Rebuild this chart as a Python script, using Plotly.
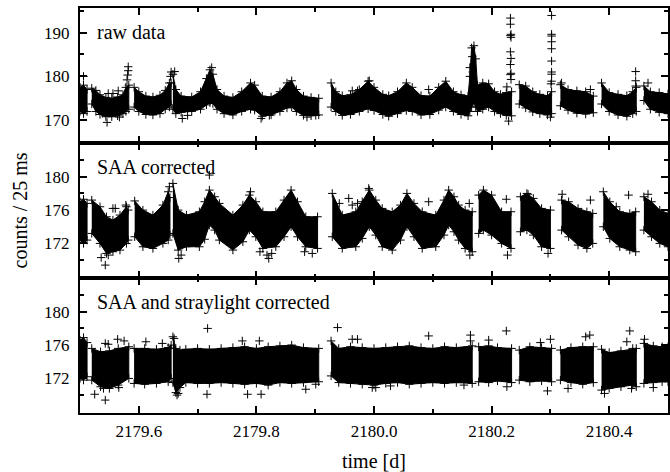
import plotly.graph_objects as go
from plotly.subplots import make_subplots

N = None

# ---------------- data ----------------
# Dense band of each light curve: time knots [d], lower and upper edge [counts / 25 ms]
# None marks a gap in the data.
raw_time = [2179.500, 2179.506, 2179.512, N,
            2179.520, 2179.527, 2179.534, 2179.544, 2179.554, 2179.564, 2179.573, 2179.578, 2179.583, N,
            2179.592, 2179.600, 2179.612, 2179.624, 2179.636, 2179.645, 2179.652, 2179.655, N,
            2179.658, 2179.663, 2179.672, 2179.690, 2179.705, 2179.715, 2179.721, 2179.726, 2179.733, 2179.745,
            2179.760, 2179.775, 2179.790, 2179.797, 2179.810, 2179.825, 2179.840, 2179.852, 2179.860, 2179.868,
            2179.880, 2179.893, 2179.906, N,
            2179.927, 2179.935, 2179.946, 2179.960, 2179.975, 2179.990, 2180.000, 2180.015, 2180.025, 2180.040,
            2180.055, 2180.065, 2180.080, 2180.095, 2180.110, 2180.122, 2180.135, 2180.148, 2180.160, 2180.163,
            2180.166, 2180.170, 2180.173, 2180.176, 2180.185, 2180.195, 2180.205, 2180.215, 2180.225, 2180.234, N,
            2180.247, 2180.258, 2180.270, 2180.282, 2180.295, 2180.302, N,
            2180.317, 2180.330, 2180.345, 2180.360, 2180.373, N,
            2180.387, 2180.400, 2180.415, 2180.430, 2180.440, 2180.446, N,
            2180.459, 2180.470, 2180.485, 2180.500]
raw_low = [172, 171.5, 172, N,
           173.7, 172, 171.3, 170.8, 170.8, 171, 171.5, 172, 172.5, N,
           173, 172, 171.3, 171.2, 171.5, 172.5, 173, 173.5, N,
           172.5, 171.5, 171.8, 172, 172.5, 173.5, 174, 173.8, 172.5, 171.5,
           171.2, 172, 172.5, 172.3, 170.9, 171.2, 172, 172.8, 173, 172,
           171.1, 171, 171.2, N,
           173, 172, 171.1, 171.3, 172, 172.6, 172.2, 171.3, 170.9, 171.5,
           172.2, 172, 171.2, 171.3, 172.3, 173, 172, 171.3, 171, 172,
           173, 174, 173, 172, 172.5, 173, 172, 171.5, 171.1, 171, N,
           173.7, 172.8, 171.9, 171.5, 171.2, 171.5, N,
           173.3, 172.3, 171.6, 171.4, 171.7, N,
           173.7, 172, 171.2, 170.9, 171.5, 172, N,
           174.5, 172.5, 171.8, 171.5]
raw_high = [177.5, 178, 177, N,
            177.3, 176.8, 175.8, 175.2, 175, 175.3, 175.8, 177.5, 178, N,
            177.5, 176.5, 175.5, 175.3, 175.7, 176.8, 178.5, 178.5, N,
            180.5, 177, 175.5, 175.3, 176.5, 179.5, 181.5, 180.5, 177, 175.5,
            175.2, 176.5, 178.5, 178, 175.5, 175.3, 176.5, 178.5, 179, 177,
            175.5, 175.2, 175, N,
            178.5, 176.5, 175.6, 175.8, 177, 178.9, 177.5, 175.9, 175.6, 176.5,
            178.5, 177.5, 175.6, 175.5, 177.5, 178.9, 176.5, 175.8, 175.5, 180,
            186.5, 187, 184, 178, 178.5, 178.3, 176.5, 175.9, 176.3, 176.5, N,
            178.1, 177.8, 176.5, 175.9, 175.6, 176.5, N,
            178.1, 177, 176.7, 176.5, 175.5, N,
            178.5, 176.3, 175.9, 175.6, 176.5, 177.5, N,
            177.8, 176.5, 176.3, 176]
raw_out_time = [2179.506, 2179.582, 2179.582, 2179.581, 2179.580, 2179.546, 2179.548, 2179.556, 2179.565,
                2179.567, 2179.538, 2179.655, 2179.654, 2179.661, 2179.674, 2179.683, 2179.724, 2179.808,
                2179.822, 2179.886, 2179.901, 2179.963, 2179.972, 2179.992, 2180.093,
                2180.232, 2180.232, 2180.233, 2180.232, 2180.233, 2180.232, 2180.233, 2180.232, 2180.233,
                2180.232, 2180.233, 2180.229, 2180.226,
                2180.302, 2180.302, 2180.302, 2180.302, 2180.302, 2180.302, 2180.302, 2180.302, 2180.302,
                2180.301, 2180.300, 2180.319, 2180.368, 2180.445, 2180.445, 2180.445, 2180.466,
                2180.163, 2180.167, 2180.168]
raw_out_value = [180, 182.2, 181.3, 180.3, 179.2, 169.5, 176.1, 176.1, 176.7,
                 170.7, 171.6, 181, 180, 181.1, 170.4, 171.1, 182, 170.4,
                 171.1, 170.7, 171.1, 176.7, 176.7, 179, 177,
                 193.3, 191.9, 189.6, 189.3, 188.9, 185.6, 184.1, 182.7, 180.7,
                 180.4, 179.3, 169.8, 177.6,
                 193.9, 189.6, 189.2, 187.9, 186.3, 183.5, 181, 180.5, 178.9,
                 178.3, 170.7, 178.5, 177, 181.1, 179, 177.8, 178.5,
                 182, 184.5, 181]

saa_time = [2179.500, 2179.506, 2179.512, N,
            2179.520, 2179.534, 2179.545, 2179.556, 2179.568, 2179.579, 2179.582, N,
            2179.593, 2179.607, 2179.624, 2179.641, 2179.650, 2179.653, N,
            2179.658, 2179.667, 2179.681, 2179.703, 2179.712, 2179.720, 2179.729, 2179.737, 2179.760, 2179.777,
            2179.788, 2179.799, 2179.811, 2179.833, 2179.847, 2179.859, 2179.870, 2179.884, 2179.904, N,
            2179.929, 2179.946, 2179.969, 2179.980, 2179.992, 2180.003, 2180.014, 2180.031, 2180.045, 2180.056,
            2180.068, 2180.082, 2180.105, 2180.119, 2180.127, 2180.136, 2180.144, 2180.155, 2180.167, N,
            2180.178, 2180.186, 2180.200, 2180.217, 2180.233, N,
            2180.249, 2180.260, 2180.271, 2180.285, 2180.300, N,
            2180.319, 2180.331, 2180.347, 2180.362, 2180.372, N,
            2180.390, 2180.401, 2180.418, 2180.435, 2180.445, N,
            2180.459, 2180.472, 2180.486, 2180.500]
saa_low = [172.4, 172, 172.4, N,
           173.2, 172, 170.8, 171, 171.2, 172, 172.4, N,
           172.8, 171.6, 171.4, 172, 172.4, 173, N,
           173.2, 171.2, 171.6, 171.6, 172.5, 174.2, 173.6, 172.4, 171.2, 172.2,
           173.6, 172.8, 171.4, 171.6, 172.8, 174, 172.8, 171.6, 171.4, N,
           172.8, 171.4, 171.6, 172.6, 174, 173, 171.6, 171.2, 172.4, 174,
           172.8, 171.4, 171.6, 173, 174.2, 173.4, 172.4, 171.4, 171, N,
           173.2, 173.6, 173, 172, 171.4, N,
           173.4, 173.6, 173, 171.6, 171.4, N,
           173.6, 172.8, 171.8, 171.4, 172, N,
           174, 172.6, 171.6, 171.2, 171, N,
           173.6, 172.8, 172, 171.6]
saa_high = [177, 177.3, 176.8, N,
            177.2, 176.4, 175.2, 174.8, 175.4, 176.4, 176, N,
            177.1, 176, 175.4, 176.6, 178.2, 177.5, N,
            179.2, 176, 175.4, 175.8, 177, 178.4, 177.6, 176.8, 175.4, 176.6,
            177.8, 177, 175.8, 175.8, 177.2, 178.4, 177, 175.2, 175.2, N,
            178, 175.4, 175.8, 177, 178.4, 177.2, 176.2, 175.8, 176.6, 178,
            176.8, 175.8, 175.4, 177.2, 178.4, 177.6, 176.6, 176, 175.8, N,
            177.8, 178.4, 177.8, 175.8, 175.8, N,
            177.6, 178, 177.4, 176.2, 176, N,
            177.2, 177, 176.2, 175.8, 175.6, N,
            178.2, 177, 175.8, 175.6, 175.8, N,
            177.6, 177, 176, 175.6]
saa_out_time = [2179.543, 2179.536, 2179.548, 2179.556, 2179.560, 2179.578, 2179.652, 2179.720, 2179.668,
                2179.672, 2179.790, 2179.806, 2179.818, 2179.821, 2179.826, 2179.882, 2179.895, 2179.941,
                2179.957, 2179.963, 2179.972, 2179.991, 2180.093, 2180.162, 2180.163, 2180.225, 2180.227,
                2180.262, 2180.296, 2180.320, 2180.368, 2180.412, 2180.433, 2180.466]
saa_out_value = [169.4, 170.3, 170.6, 176.2, 176.2, 176.6, 178.8, 180.2, 170.2,
                 170.6, 178.2, 171.0, 170.6, 170.2, 170.8, 171.0, 170.8, 176.8,
                 177.4, 176.6, 176.8, 178.6, 177.0, 176.8, 170.6, 177.3, 170.6,
                 177.9, 170.8, 177.9, 177.2, 176.4, 177.8, 177.9]

stray_time = [2179.500, 2179.506, 2179.512, N,
              2179.520, 2179.535, 2179.550, 2179.565, 2179.583, N,
              2179.592, 2179.610, 2179.630, 2179.650, 2179.655, N,
              2179.658, 2179.663, 2179.670, 2179.680, 2179.700, 2179.720, 2179.740, 2179.760, 2179.780, 2179.800,
              2179.820, 2179.840, 2179.860, 2179.880, 2179.906, N,
              2179.927, 2179.940, 2179.960, 2179.980, 2180.000, 2180.020, 2180.040, 2180.060, 2180.080, 2180.100,
              2180.120, 2180.140, 2180.167, N,
              2180.178, 2180.195, 2180.210, 2180.234, N,
              2180.247, 2180.265, 2180.285, 2180.302, N,
              2180.317, 2180.335, 2180.355, 2180.373, N,
              2180.387, 2180.400, 2180.420, 2180.440, 2180.446, N,
              2180.459, 2180.475, 2180.490, 2180.500]
stray_low = [172, 171.8, 172.2, N,
             171.8, 171, 170.8, 171.2, 172, N,
             171.4, 171.3, 171.4, 171.6, 172, N,
             171.5, 170.3, 170.9, 171.5, 171.4, 171.4, 171.5, 171.4, 171.3, 171.4,
             171.2, 171.5, 171.4, 171.5, 171.6, N,
             172.3, 171.5, 171.4, 171.3, 171.2, 171.4, 171.5, 171.3, 171.4, 171.5,
             171.4, 171.5, 171.4, N,
             171.6, 171.5, 171.7, 171.5, N,
             171.8, 171.6, 171.7, 171.6, N,
             171.8, 171.5, 171.3, 171.5, N,
             170.6, 170.8, 171, 171.2, 171, N,
             171.4, 171.5, 171.6, 171.6]
stray_high = [176.6, 176.9, 176.3, N,
              175.6, 175.2, 175.3, 175.6, 175.8, N,
              175.6, 175.6, 175.5, 175.7, 176, N,
              177, 175.6, 175.4, 175.5, 175.6, 175.5, 175.6, 175.7, 175.8, 175.6,
              175.8, 175.9, 176, 175.7, 175.6, N,
              176.5, 175.6, 175.8, 175.7, 175.6, 175.7, 175.8, 175.9, 175.7, 175.6,
              175.8, 175.7, 175.9, N,
              175.8, 175.9, 175.7, 175.6, N,
              175.4, 175.8, 175.7, 175.6, N,
              175.4, 175.7, 175.8, 175.8, N,
              175.5, 175.1, 175.3, 175.6, 175.6, N,
              176.2, 175.9, 175.8, 175.8]
stray_out_time = [2179.525, 2179.543, 2179.540, 2179.566, 2179.543, 2179.548, 2179.564, 2179.575, 2179.612,
                  2179.640, 2179.660, 2179.665, 2179.667, 2179.717, 2179.716, 2179.776, 2179.805, 2179.785,
                  2179.808, 2179.884, 2179.901, 2179.938, 2179.963, 2179.972, 2179.997, 2180.003, 2180.028,
                  2180.093, 2180.164, 2180.164, 2180.153, 2180.195, 2180.225, 2180.226, 2180.283, 2180.295,
                  2180.300, 2180.330, 2180.360, 2180.367, 2180.392, 2180.430, 2180.435, 2180.438, 2180.460,
                  2180.475]
stray_out_value = [170.1, 169.4, 170.8, 170.9, 176.2, 176.1, 176.7, 176.5, 176.4,
                   176.2, 176.8, 170.0, 170.2, 178.0, 170.1, 176.5, 176.5, 170.1,
                   170.1, 170.7, 171.3, 178.1, 176.7, 176.7, 170.9, 170.9, 171.1,
                   177.1, 177.2, 176.5, 171.2, 176.6, 177.7, 171.0, 176.3, 170.5,
                   176.7, 170.8, 177.0, 177.2, 170.2, 176.4, 177.7, 170.8, 176.7,
                   170.9]

panel_labels = ["raw data", "SAA corrected", "SAA and straylight corrected"]
y_ranges = [[164.8, 195.6], [167.85, 184.05], [167.85, 184.05]]
y_major = [[170, 180, 190], [172, 176, 180], [172, 176, 180]]
y_minor = [[165, 175, 185, 195], [170, 174, 178, 182], [170, 174, 178, 182]]
x_major = [2179.6, 2179.8, 2180.0, 2180.2, 2180.4]
x_minor = [2179.5, 2179.7, 2179.9, 2180.1, 2180.3, 2180.5]
x_range = [2179.5, 2180.5]

# ---------------- figure ----------------
FONT = "Liberation Serif"


def band_polygon(t, lo, hi):
    xs, ys = [], []
    seg_t, seg_lo, seg_hi = [], [], []
    for a, b, c in list(zip(t, lo, hi)) + [(None, None, None)]:
        if a is None:
            if seg_t:
                xs += seg_t + seg_t[::-1] + [None]
                ys += seg_hi + seg_lo[::-1] + [None]
            seg_t, seg_lo, seg_hi = [], [], []
        else:
            seg_t.append(a)
            seg_lo.append(b)
            seg_hi.append(c)
    return xs, ys


fig = make_subplots(rows=3, cols=1, shared_xaxes=True, vertical_spacing=0)

series = [
    (raw_time, raw_low, raw_high, raw_out_time, raw_out_value),
    (saa_time, saa_low, saa_high, saa_out_time, saa_out_value),
    (stray_time, stray_low, stray_high, stray_out_time, stray_out_value),
]

plus = dict(symbol="cross-thin", size=6, color="black", line=dict(width=1, color="black"))

for i, (t, lo, hi, ot, ov) in enumerate(series, start=1):
    px, py = band_polygon(t, lo, hi)
    fig.add_trace(go.Scatter(x=px, y=py, mode="lines", fill="toself", fillcolor="black",
                             line=dict(color="black", width=1), hoverinfo="skip",
                             showlegend=False), row=i, col=1)
    et = [a for a in t if a is not None]
    el = [b for b in lo if b is not None]
    eh = [c for c in hi if c is not None]
    fig.add_trace(go.Scatter(x=et + et, y=el + eh, mode="markers", marker=plus,
                             showlegend=False), row=i, col=1)
    fig.add_trace(go.Scatter(x=ot, y=ov, mode="markers", marker=plus,
                             showlegend=False), row=i, col=1)

axis_common = dict(showline=True, linewidth=2, linecolor="black", mirror="ticks",
                   ticks="inside", tickwidth=1.5, tickcolor="black", showgrid=False,
                   zeroline=False,
                   tickfont=dict(family=FONT, size=17, color="black"))

for i in range(1, 4):
    fig.update_xaxes(range=x_range, tickmode="array", tickvals=x_major, tickformat=".1f",
                     ticklen=7, ticklabelstandoff=2,
                     minor=dict(tickmode="array", tickvals=x_minor, ticklen=4, ticks="inside",
                                tickwidth=1.5, tickcolor="black"),
                     row=i, col=1, **axis_common)
    fig.update_yaxes(range=y_ranges[i - 1], tickmode="array", tickvals=y_major[i - 1],
                     ticklen=7, ticklabelstandoff=5,
                     minor=dict(tickmode="array", tickvals=y_minor[i - 1], ticklen=4,
                                ticks="inside", tickwidth=1.5, tickcolor="black"),
                     row=i, col=1, **axis_common)

annotations = []
for i, lab in enumerate(panel_labels, start=1):
    yref = "y domain" if i == 1 else f"y{i} domain"
    annotations.append(dict(text=lab, xref="paper", x=0, xanchor="left", xshift=15,
                            yref=yref, y=1, yanchor="middle", yshift=-24, showarrow=False,
                            font=dict(family=FONT, size=20, color="black")))
annotations.append(dict(text="counts / 25 ms", xref="paper", x=0, xshift=-61, xanchor="center",
                        yref="paper", y=0.5, yanchor="middle", textangle=-90, showarrow=False,
                        font=dict(family=FONT, size=20, color="black")))
annotations.append(dict(text="time [d]", xref="paper", x=0.5, xanchor="center",
                        yref="paper", y=0, yanchor="middle", yshift=-48, showarrow=False,
                        font=dict(family=FONT, size=20, color="black")))

fig.update_layout(width=670, height=472, margin=dict(l=80, r=0, t=8, b=59),
                  plot_bgcolor="white", paper_bgcolor="white",
                  annotations=annotations, showlegend=False)

# remove the browser's default 8 px body margin so the figure fills the window exactly
fig.write_html("out.html", config={"displayModeBar": False},
               post_script="document.body.style.margin='0';document.body.style.overflow='hidden';")
